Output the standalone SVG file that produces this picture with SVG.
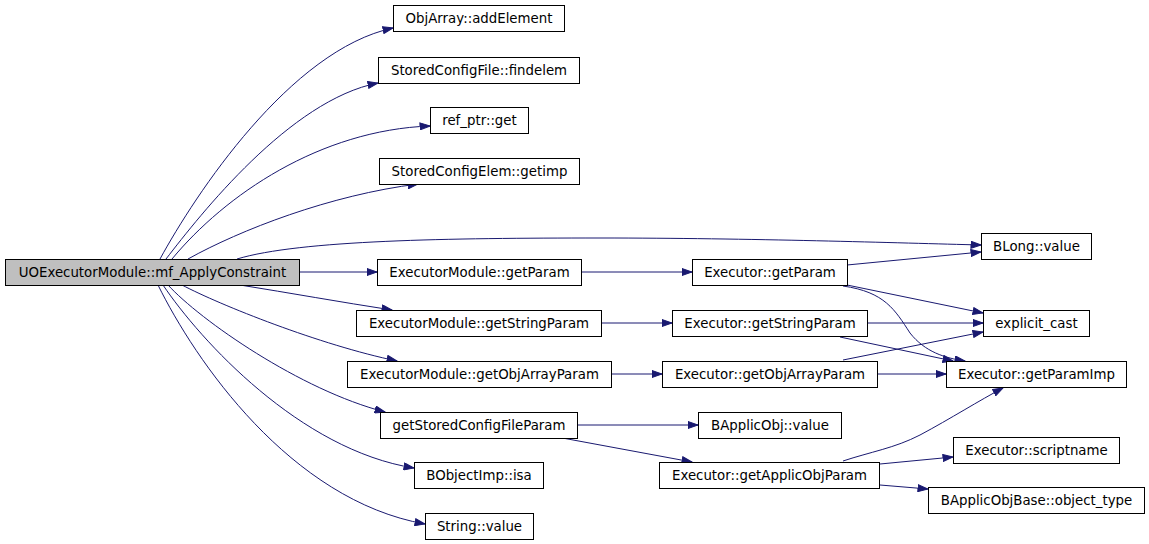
<svg xmlns="http://www.w3.org/2000/svg" width="1149" height="544" viewBox="0 0 1149 544">
<defs>
<style>
.n rect{fill:#ffffff;stroke:#000000;stroke-width:1}
.n.root rect{fill:#bfbfbf}
.n text{font-family:"DejaVu Sans","Liberation Sans",sans-serif;font-size:13.33px;fill:#000000;text-anchor:middle}
.e path{fill:none;stroke:#191970;stroke-width:1;marker-end:url(#arr)}
</style>
<marker id="arr" markerUnits="userSpaceOnUse" markerWidth="11" markerHeight="8" viewBox="0 0 11 8" refX="10.5" refY="4" orient="auto">
<path d="M0.5,0.5 L10.5,4 L0.5,7.5 Z" fill="#191970" stroke="#191970" stroke-width="1"/>
</marker>
</defs>
<rect width="1149" height="544" fill="#ffffff"/>
<g id="edges" class="e">
<path d="M160,259 C195,195 290,50 393,28"/>
<path d="M166,259 C200,215 290,100 378,83"/>
<path d="M172,259 C225,195 320,130 430,126"/>
<path d="M188,259 C240,230 330,195 418,184"/>
<path d="M237,259 C300,240 450,238 600,238 C750,238 900,243 981,245"/>
<path d="M299,272 L377,272"/>
<path d="M240,285 C290,293 340,302 392,310"/>
<path d="M182,285 C220,305 320,345 397,361"/>
<path d="M168,285 C200,320 300,390 385,412"/>
<path d="M163,285 C200,340 300,450 414,468"/>
<path d="M158,285 C195,360 290,500 425,524"/>
<path d="M581,272 L692,272"/>
<path d="M601,323 L672,323"/>
<path d="M611,374 L662,374"/>
<path d="M577,425 L698,425"/>
<path d="M557,437 L692,462"/>
<path d="M847,265 L981,252"/>
<path d="M847,285 L983,313"/>
<path d="M843,286 C885,292 895,310 910,333 C925,352 945,358 965,361"/>
<path d="M867,323 L983,323"/>
<path d="M840,337 L953,361"/>
<path d="M843,360 L983,332"/>
<path d="M877,374 L946,374"/>
<path d="M843,461 C870,452 895,448 920,435 C950,419 980,400 1003,388"/>
<path d="M880,464 L953,457"/>
<path d="M880,485 L928,489"/>
</g>
<g id="n_main" class="n root"><rect x="5.5" y="259.5" width="294" height="26"/><text x="152.5" y="277">UOExecutorModule::mf_ApplyConstraint</text></g>
<g id="n_addElement" class="n"><rect x="393.5" y="5.5" width="171" height="26"/><text x="479" y="23">ObjArray::addElement</text></g>
<g id="n_findelem" class="n"><rect x="378.5" y="57.5" width="201" height="26"/><text x="479" y="75">StoredConfigFile::findelem</text></g>
<g id="n_refptr_get" class="n"><rect x="430.5" y="107.5" width="98" height="26"/><text x="479.5" y="125">ref_ptr::get</text></g>
<g id="n_getimp" class="n"><rect x="379.5" y="158.5" width="200" height="26"/><text x="479.5" y="176">StoredConfigElem::getimp</text></g>
<g id="n_blong_value" class="n"><rect x="981.5" y="233.5" width="110" height="26"/><text x="1036.5" y="251">BLong::value</text></g>
<g id="n_em_getParam" class="n"><rect x="377.5" y="259.5" width="204" height="26"/><text x="479.5" y="277">ExecutorModule::getParam</text></g>
<g id="n_em_getStringParam" class="n"><rect x="356.5" y="310.5" width="245" height="26"/><text x="479" y="328">ExecutorModule::getStringParam</text></g>
<g id="n_em_getObjArrayParam" class="n"><rect x="347.5" y="361.5" width="264" height="26"/><text x="479.5" y="379">ExecutorModule::getObjArrayParam</text></g>
<g id="n_getStoredConfigFileParam" class="n"><rect x="380.5" y="412.5" width="197" height="26"/><text x="479" y="430">getStoredConfigFileParam</text></g>
<g id="n_bobjectimp_isa" class="n"><rect x="414.5" y="462.5" width="129" height="26"/><text x="479" y="480">BObjectImp::isa</text></g>
<g id="n_string_value" class="n"><rect x="425.5" y="513.5" width="108" height="26"/><text x="479.5" y="531">String::value</text></g>
<g id="n_ex_getParam" class="n"><rect x="692.5" y="259.5" width="155" height="26"/><text x="770" y="277">Executor::getParam</text></g>
<g id="n_ex_getStringParam" class="n"><rect x="672.5" y="310.5" width="195" height="26"/><text x="770" y="328">Executor::getStringParam</text></g>
<g id="n_ex_getObjArrayParam" class="n"><rect x="662.5" y="361.5" width="215" height="26"/><text x="770" y="379">Executor::getObjArrayParam</text></g>
<g id="n_bapplicobj_value" class="n"><rect x="698.5" y="412.5" width="143" height="26"/><text x="770" y="430">BApplicObj::value</text></g>
<g id="n_ex_getApplicObjParam" class="n"><rect x="659.5" y="462.5" width="220" height="26"/><text x="769.5" y="480">Executor::getApplicObjParam</text></g>
<g id="n_explicit_cast" class="n"><rect x="983.5" y="310.5" width="106" height="26"/><text x="1036.5" y="328">explicit_cast</text></g>
<g id="n_ex_getParamImp" class="n"><rect x="946.5" y="361.5" width="180" height="26"/><text x="1036.5" y="379">Executor::getParamImp</text></g>
<g id="n_ex_scriptname" class="n"><rect x="953.5" y="437.5" width="166" height="26"/><text x="1036.5" y="455">Executor::scriptname</text></g>
<g id="n_object_type" class="n"><rect x="928.5" y="487.5" width="216" height="26"/><text x="1036.5" y="505">BApplicObjBase::object_type</text></g>
</svg>
